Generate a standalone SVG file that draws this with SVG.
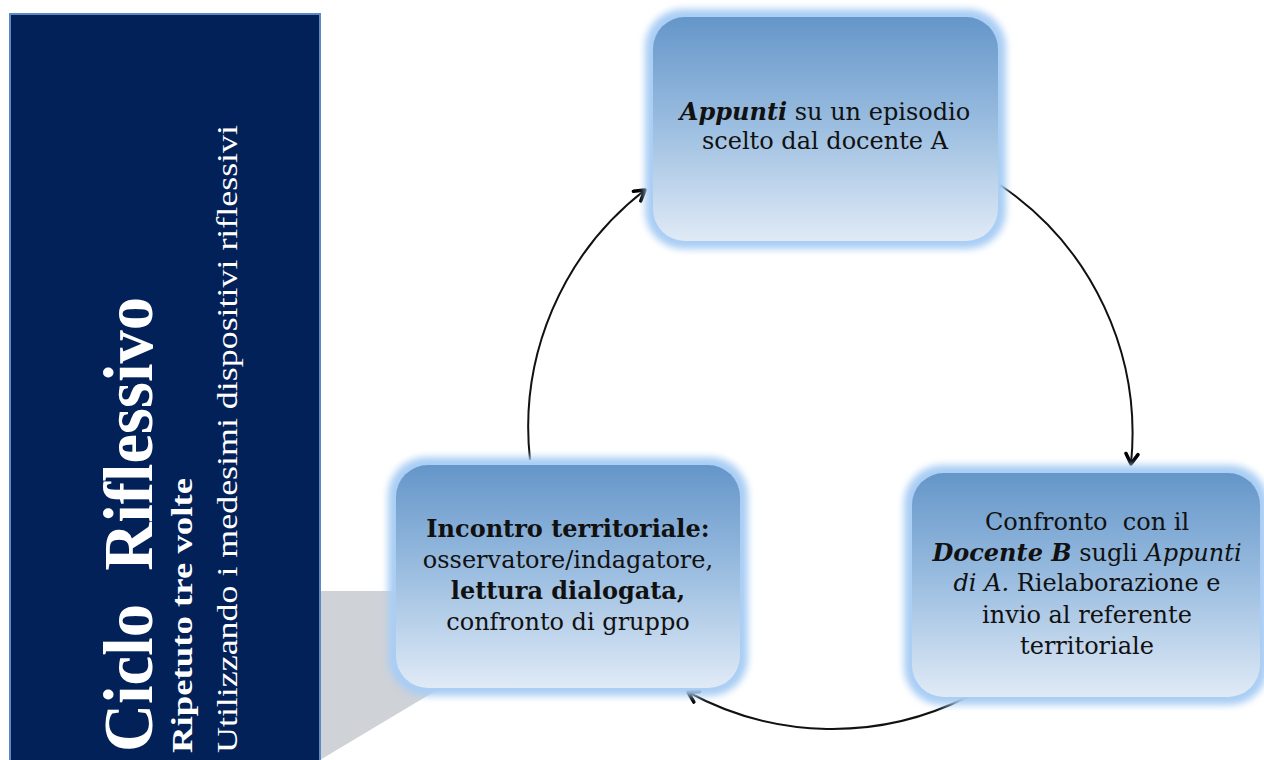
<svg xmlns="http://www.w3.org/2000/svg" width="1264" height="760" viewBox="0 0 1264 760">
<style>
.nt{font-family:"DejaVu Serif","Liberation Serif",serif;font-size:24px;fill:#111;text-anchor:middle}
.b{font-weight:bold}
.i{font-style:italic}
.side{font-family:"Liberation Serif",serif;fill:#fff}
.conn{fill:none;stroke:#111;stroke-width:2}
</style>
<defs>
<linearGradient id="boxg" x1="0" y1="0" x2="0" y2="1">
<stop offset="0" stop-color="#6596c9"/>
<stop offset="0.5" stop-color="#9dbfe1"/>
<stop offset="1" stop-color="#e0eaf6"/>
</linearGradient>
<filter id="glow" x="-10%" y="-10%" width="120%" height="120%">
<feGaussianBlur stdDeviation="3.5"/>
</filter>
<marker id="arr" viewBox="0 0 16 16" refX="13" refY="8" markerWidth="16" markerHeight="16" markerUnits="userSpaceOnUse" orient="auto">
<path d="M3,2 L13,8 L3,14" fill="none" stroke="#000" stroke-width="3.5" stroke-linecap="round" stroke-linejoin="round"/>
</marker>
</defs>
<rect width="1264" height="760" fill="#fff"/>
<g id="sidepanel">
<polygon points="320,591 450,591 450,680 437,690 320,760" fill="#cfd2d7"/>
<rect x="10" y="14" width="310" height="750" fill="#022159" stroke="#5d89c2" stroke-width="2"/>
<text class="side b" transform="translate(152,752) rotate(-90)" font-size="70" textLength="455" lengthAdjust="spacingAndGlyphs">Ciclo&#160; Riflessivo</text>
<text class="side b" transform="translate(192,753) rotate(-90)" font-size="29" textLength="275" lengthAdjust="spacingAndGlyphs">Ripetuto tre volte</text>
<text class="side" transform="translate(237,753) rotate(-90)" font-size="29" textLength="628" lengthAdjust="spacingAndGlyphs">Utilizzando i medesimi dispositivi riflessivi</text>
</g>
<g id="connectors">
<path class="conn" d="M530,460 A300,300 0 0 1 645,190" marker-end="url(#arr)"/>
<path class="conn" d="M1000,185 A300,300 0 0 1 1131,464" marker-end="url(#arr)"/>
<path class="conn" d="M967,697 A300,300 0 0 1 688,692" marker-end="url(#arr)"/>
</g>
<g id="node-appunti">
<rect x="645" y="9" width="361" height="240" rx="38" fill="#a9cdf4" filter="url(#glow)"/>
<rect x="653" y="17" width="345" height="224" rx="32" fill="url(#boxg)"/>
<text class="nt" x="825" y="120"><tspan class="b i">Appunti</tspan> su un episodio</text>
<text class="nt" x="825" y="149">scelto dal docente A</text>
</g>
<g id="node-incontro">
<rect x="388" y="457" width="360" height="239" rx="38" fill="#a9cdf4" filter="url(#glow)"/>
<rect x="396" y="465" width="344" height="223" rx="32" fill="url(#boxg)"/>
<text class="nt b" x="568" y="537">Incontro territoriale:</text>
<text class="nt" x="568" y="568">osservatore/indagatore,</text>
<text class="nt b" x="568" y="599">lettura dialogata,</text>
<text class="nt" x="568" y="630">confronto di gruppo</text>
</g>
<g id="node-confronto">
<rect x="904" y="465" width="364" height="240" rx="38" fill="#a9cdf4" filter="url(#glow)"/>
<rect x="912" y="473" width="348" height="224" rx="32" fill="url(#boxg)"/>
<text class="nt" x="1087" y="530">Confronto&#160; con il</text>
<text class="nt" x="1087" y="561"><tspan class="b i">Docente B</tspan> sugli <tspan class="i">Appunti</tspan></text>
<text class="nt" x="1087" y="591"><tspan class="i">di A.</tspan> Rielaborazione e</text>
<text class="nt" x="1087" y="623">invio al referente</text>
<text class="nt" x="1087" y="654">territoriale</text>
</g>
</svg>
